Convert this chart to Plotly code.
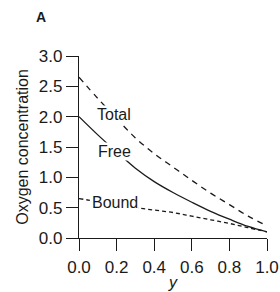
import plotly.graph_objects as go

y_frac = [0.0, 0.1, 0.2, 0.3, 0.4, 0.5, 0.6, 0.7, 0.8, 0.9, 1.0]
total = [2.65, 2.30, 1.97, 1.65, 1.39, 1.17, 0.95, 0.74, 0.55, 0.36, 0.20]
free = [2.00, 1.70, 1.42, 1.15, 0.93, 0.75, 0.59, 0.44, 0.31, 0.19, 0.10]
bound = [0.65, 0.60, 0.55, 0.50, 0.46, 0.42, 0.36, 0.30, 0.24, 0.17, 0.10]

labels = ["Total", "Free", "Bound"]
label_x = [0.186, 0.19, 0.19]
label_y = [2.04, 1.43, 0.58]

x_ticks = [0.0, 0.2, 0.4, 0.6, 0.8, 1.0]
y_ticks = [0.0, 0.5, 1.0, 1.5, 2.0, 2.5, 3.0]

FONT = "Liberation Sans, Arial, sans-serif"
INK = "#1a1a1a"

fig = go.Figure()
fig.add_trace(go.Scatter(x=y_frac, y=total, mode="lines", line_shape="spline",
                         line=dict(color=INK, width=1.3, dash="6px,5px")))
fig.add_trace(go.Scatter(x=y_frac, y=free, mode="lines", line_shape="spline",
                         line=dict(color=INK, width=1.3)))
fig.add_trace(go.Scatter(x=y_frac, y=bound, mode="lines", line_shape="spline",
                         line=dict(color=INK, width=1.3, dash="4px,3px")))

for t, lx, ly in zip(labels, label_x, label_y):
    fig.add_annotation(x=lx, y=ly, text=t, showarrow=False, bgcolor="white",
                       font=dict(family=FONT, size=16, color=INK), borderpad=0)

fig.add_annotation(xref="paper", yref="paper", x=-0.202, y=1.214, text="<b>A</b>",
                   showarrow=False, xanchor="center", yanchor="middle",
                   font=dict(family=FONT, size=14, color=INK))

# x-axis title placed as paper annotation
fig.add_annotation(xref="paper", yref="paper", x=0.5, y=-0.245, text="<i>y</i>",
                   showarrow=False, xanchor="center", yanchor="middle",
                   font=dict(family=FONT, size=16, color=INK))

fig.update_layout(
    width=280, height=292,
    margin=dict(l=79, r=13, t=56, b=54, autoexpand=False),
    paper_bgcolor="white", plot_bgcolor="white",
    showlegend=False,
    font=dict(family=FONT, size=16, color=INK),
    xaxis=dict(range=[0, 1], tickvals=x_ticks, tickformat=".1f",
               automargin=False,
               showline=True, linecolor=INK, linewidth=1.3,
               ticks="outside", ticklen=12, tickwidth=1.2, tickcolor=INK,
               ticklabelstandoff=1,
               tickfont=dict(family=FONT, size=17, color=INK),
               showgrid=False, zeroline=False),
    yaxis=dict(range=[0, 3], tickvals=y_ticks, tickformat=".1f",
               automargin=False,
               showline=True, linecolor=INK, linewidth=1.3,
               ticks="outside", ticklen=12, tickwidth=1.2, tickcolor=INK,
               tickfont=dict(family=FONT, size=17, color=INK),
               showgrid=False, zeroline=False,
               title=dict(text="Oxygen concentration", standoff=6,
                          font=dict(family=FONT, size=16, color=INK))),
)

fig.write_html("out.html", config={"displayModeBar": False},
               post_script="document.body.style.margin='0';")
